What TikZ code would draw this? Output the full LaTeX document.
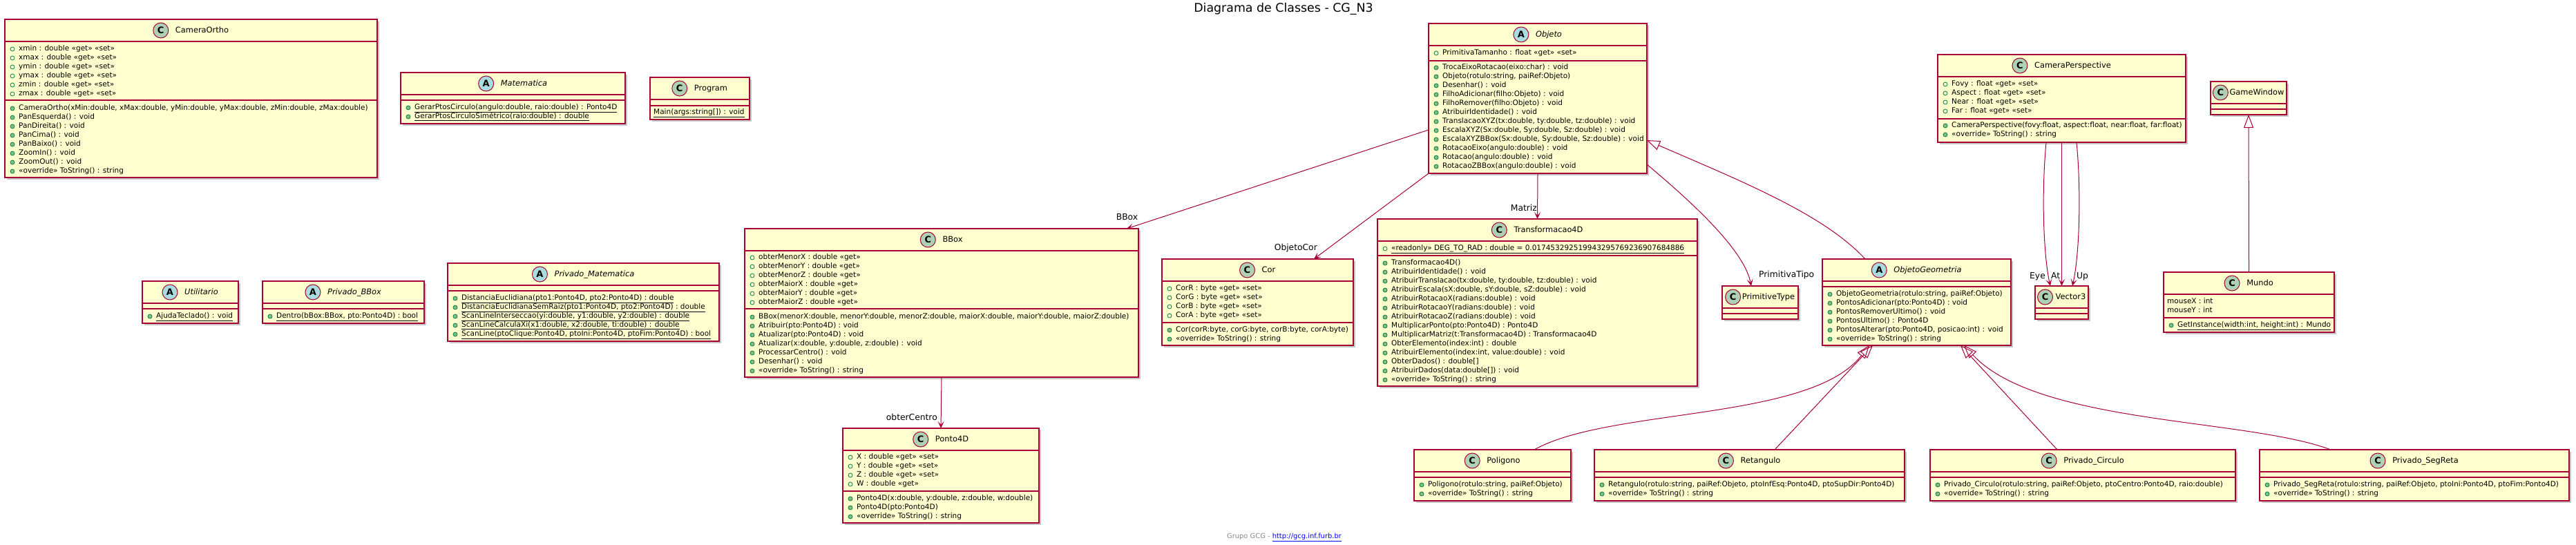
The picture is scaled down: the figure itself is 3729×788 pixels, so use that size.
\documentclass[tikz,border=0pt]{standalone}
\usepackage{fontspec}
\setmainfont{DejaVu Sans}[ItalicFont={DejaVu Sans Oblique}, BoldFont={DejaVu Sans Bold}, BoldItalicFont={DejaVu Sans Bold Oblique}]
\usetikzlibrary{arrows.meta,shadows}

\definecolor{umlrot}{HTML}{A80036}
\definecolor{umlgelb}{HTML}{FEFECE}
\definecolor{umlgruen}{HTML}{ADD1B2}
\definecolor{umlblau}{HTML}{A9DCDF}
\definecolor{markgruen}{HTML}{038048}
\definecolor{markfuell}{HTML}{84BE84}
\definecolor{fussgrau}{HTML}{888888}

\tikzset{
  kasten/.style={draw=umlrot, fill=umlgelb, line width=1.3pt, inner sep=0pt, outer sep=0pt,
    drop shadow={shadow xshift=3pt, shadow yshift=-3pt, fill=black, opacity=0.22}},
  trenn/.style={draw=umlrot, line width=1.3pt},
  titel C/.style={font=\fontsize{11.4}{13}\selectfont},
  titel A/.style={font=\fontsize{11.4}{13}\selectfont\itshape},
  icon/.style={circle, draw=umlrot, line width=1pt, minimum size=22pt, inner sep=0pt,
    font=\fontsize{13}{13}\selectfont\bfseries},
  icon C/.style={fill=umlgruen},
  icon A/.style={fill=umlblau},
  glied/.style={anchor=west, inner sep=0pt, text height=8pt, text depth=2.5pt,
    font=\fontsize{10.5}{13}\selectfont},
  attrmark/.style={draw=markgruen, line width=0.8pt},
  methmark/.style={draw=markgruen, fill=markfuell, line width=0.8pt},
  kantentext/.style={inner sep=0pt, text height=9pt, text depth=2.5pt,
    font=\fontsize{12.3}{14}\selectfont},
}

% Klassenkasten: [Abstand Icon-Titel] Name, links, oben, rechts, unten, Trennlinie, C/A, Titel
\newcommand\kasten[9][32pt]{%
  \node[kasten, anchor=north west, minimum width={#5-#3}, minimum height={#6-#4}] (#2) at (#3,#4) {};
  \draw[trenn] (#3,#4+32) -- (#5,#4+32);
  \draw[trenn] (#3,#7) -- (#5,#7);
  \node[titel #8, inner sep=0pt, text height=8.5pt, text depth=2.5pt] (#2-titel) at ([yshift=-16pt]#2.north) {\hspace*{#1}#9};
  \node[icon, icon #8] (#2-icon) at ([xshift=11pt]#2-titel.west) {#8};
}
% Attribute (offener Kreis), Methoden (gefuellter Kreis), ohne Marke
\newcommand\attribute[4]{%
  \foreach \zeile [count=\i from 0] in {#4}{
    \draw[attrmark] (#2+11,#3+13*\i) circle (3pt);
    \node[glied] (#1-a\i) at (#2+20,#3+13*\i) {\zeile};
  }}
\newcommand\methoden[4]{%
  \foreach \zeile [count=\i from 0] in {#4}{
    \draw[methmark] (#2+11,#3+13*\i) circle (3pt);
    \node[glied] (#1-m\i) at (#2+20,#3+13*\i) {\zeile};
  }}
\newcommand\ohnemarke[4]{%
  \foreach \zeile [count=\i from 0] in {#4}{
    \node[glied] (#1-o\i) at (#2+5,#3+13*\i) {\zeile};
  }}

\begin{document}
\begin{tikzpicture}
  [
  x=1pt, y=-1pt,
  assoz/.style={draw=umlrot, line width=1pt, -{Stealth[length=10pt, width=9pt, inset=5pt]}},
  erbt/.style={draw=umlrot, line width=1pt, -{Triangle[open, length=19pt, width=14pt]}}
  %Pfeile der Beziehungen
  ]

  %Hintergrund und Rahmen
  \path[use as bounding box, fill=white] (0,0) rectangle (3729,788);

  %Titel
  \node[font=\fontsize{17.4}{20}\selectfont, anchor=base, inner sep=0pt] (titel) at (1858,17) {Diagrama de Classes - CG\_N3};

  %CameraOrtho
  \kasten{cameraortho}{7}{28}{546}{257}{145}{C}{CameraOrtho}
  \attribute{cameraortho}{7}{71}{{xmin : double «get» «set»}, {xmax : double «get» «set»}, {ymin : double «get» «set»}, {ymax : double «get» «set»}, {zmin : double «get» «set»}, {zmax : double «get» «set»}}
  \methoden{cameraortho}{7}{157}{{CameraOrtho(xMin:double, xMax:double, yMin:double, yMax:double, zMin:double, zMax:double)}, {PanEsquerda() : void}, {PanDireita() : void}, {PanCima() : void}, {PanBaixo() : void}, {ZoomIn() : void}, {ZoomOut() : void}, {«override» ToString() : string}}

  %Matematica
  \kasten{matematica}{580}{105}{905}{179}{145}{A}{Matematica}
  \methoden{matematica}{580}{156}{{\underline{GerarPtosCirculo(angulo:double, raio:double) : Ponto4D}}, {\underline{GerarPtosCirculoSimétrico(raio:double) : double}}}

  %Program
  \kasten{program}{941}{112}{1085}{173}{153}{C}{Program}
  \ohnemarke{program}{941}{163}{{\underline{Main(args:string[]) : void}}}

  %Utilitario, Privado_BBox, Privado_Matematica
  \kasten{utilitario}{206}{407}{345}{468}{447}{A}{Utilitario}
  \methoden{utilitario}{206}{458}{{\underline{AjudaTeclado() : void}}}
  \kasten{privadobbox}{380}{407}{614}{468}{447}{A}{Privado\_BBox}
  \methoden{privadobbox}{380}{458}{{\underline{Dentro(bBox:BBox, pto:Ponto4D) : bool}}}
  \kasten{privadomatematica}{648}{381}{1041}{494}{421}{A}{Privado\_Matematica}
  \methoden{privadomatematica}{648}{432}{{\underline{DistanciaEuclidiana(pto1:Ponto4D, pto2:Ponto4D) : double}}, {\underline{DistanciaEuclidianaSemRaiz(pto1:Ponto4D, pto2:Ponto4D) : double}}, {\underline{ScanLineInterseccao(yi:double, y1:double, y2:double) : double}}, {\underline{ScanLineCalculaXi(x1:double, x2:double, ti:double) : double}}, {\underline{ScanLine(ptoClique:Ponto4D, ptoIni:Ponto4D, ptoFim:Ponto4D) : bool}}}

  %BBox
  \kasten{bbox}{1078}{331}{1648}{546}{447}{C}{BBox}
  \attribute{bbox}{1078}{373}{{obterMenorX : double «get»}, {obterMenorY : double «get»}, {obterMenorZ : double «get»}, {obterMaiorX : double «get»}, {obterMaiorY : double «get»}, {obterMaiorZ : double «get»}}
  \methoden{bbox}{1078}{459}{{BBox(menorX:double, menorY:double, menorZ:double, maiorX:double, maiorY:double, maiorZ:double)}, {Atribuir(pto:Ponto4D) : void}, {Atualizar(pto:Ponto4D) : void}, {Atualizar(x:double, y:double, z:double) : void}, {ProcessarCentro() : void}, {Desenhar() : void}, {«override» ToString() : string}}

  %Ponto4D
  \kasten{ponto4d}{1220}{620}{1504}{757}{711}{C}{Ponto4D}
  \attribute{ponto4d}{1220}{662}{{X : double «get» «set»}, {Y : double «get» «set»}, {Z : double «get» «set»}, {W : double «get»}}
  \methoden{ponto4d}{1220}{722}{{Ponto4D(x:double, y:double, z:double, w:double)}, {Ponto4D(pto:Ponto4D)}, {«override» ToString() : string}}

  %Cor
  \kasten{cor}{1682}{375}{1959}{500}{467}{C}{Cor}
  \attribute{cor}{1682}{418}{{CorR : byte «get» «set»}, {CorG : byte «get» «set»}, {CorB : byte «get» «set»}, {CorA : byte «get» «set»}}
  \methoden{cor}{1682}{478}{{Cor(corR:byte, corG:byte, corB:byte, corA:byte)}, {«override» ToString() : string}}

  %Objeto
  \kasten{objeto}{2068}{34}{2384}{251}{88}{A}{Objeto}
  \attribute{objeto}{2068}{77}{{PrimitivaTamanho : float «get» «set»}}
  \methoden{objeto}{2068}{98}{{TrocaEixoRotacao(eixo:char) : void}, {Objeto(rotulo:string, paiRef:Objeto)}, {Desenhar() : void}, {FilhoAdicionar(filho:Objeto) : void}, {FilhoRemover(filho:Objeto) : void}, {AtribuirIdentidade() : void}, {TranslacaoXYZ(tx:double, ty:double, tz:double) : void}, {EscalaXYZ(Sx:double, Sy:double, Sz:double) : void}, {EscalaXYZBBox(Sx:double, Sy:double, Sz:double) : void}, {RotacaoEixo(angulo:double) : void}, {Rotacao(angulo:double) : void}, {RotacaoZBBox(angulo:double) : void}}

  %Transformacao4D
  \kasten{transformacao}{1994}{317}{2457}{559}{370}{C}{Transformacao4D}
  \attribute{transformacao}{1994}{360}{{\underline{«readonly» DEG\_TO\_RAD : double = 0.017453292519943295769236907684886}}}
  \methoden{transformacao}{1994}{381}{{Transformacao4D()}, {AtribuirIdentidade() : void}, {AtribuirTranslacao(tx:double, ty:double, tz:double) : void}, {AtribuirEscala(sX:double, sY:double, sZ:double) : void}, {AtribuirRotacaoX(radians:double) : void}, {AtribuirRotacaoY(radians:double) : void}, {AtribuirRotacaoZ(radians:double) : void}, {MultiplicarPonto(pto:Ponto4D) : Ponto4D}, {MultiplicarMatriz(t:Transformacao4D) : Transformacao4D}, {ObterElemento(index:int) : double}, {AtribuirElemento(index:int, value:double) : void}, {ObterDados() : double[]}, {AtribuirDados(data:double[]) : void}, {«override» ToString() : string}}

  %PrimitiveType, Vector3, GameWindow
  \kasten[24pt]{primitivetype}{2493}{414}{2603}{462}{454}{C}{PrimitiveType}
  \kasten[26pt]{vector3}{2946}{414}{3023}{462}{454}{C}{Vector3}
  \kasten[24pt]{gamewindow}{3200}{118}{3310}{166}{158}{C}{GameWindow}

  %ObjetoGeometria
  \kasten{objetogeometria}{2638}{375}{2911}{500}{415}{A}{ObjetoGeometria}
  \methoden{objetogeometria}{2638}{426}{{ObjetoGeometria(rotulo:string, paiRef:Objeto)}, {PontosAdicionar(pto:Ponto4D) : void}, {PontosRemoverUltimo() : void}, {PontosUltimo() : Ponto4D}, {PontosAlterar(pto:Ponto4D, posicao:int) : void}, {«override» ToString() : string}}

  %CameraPerspective
  \kasten{cameraperspective}{2805}{79}{3164}{206}{172}{C}{CameraPerspective}
  \attribute{cameraperspective}{2805}{122}{{Fovy : float «get» «set»}, {Aspect : float «get» «set»}, {Near : float «get» «set»}, {Far : float «get» «set»}}
  \methoden{cameraperspective}{2805}{182}{{CameraPerspective(fovy:float, aspect:float, near:float, far:float)}, {«override» ToString() : string}}

  %Mundo
  \kasten{mundo}{3132}{394}{3379}{481}{460}{C}{Mundo}
  \ohnemarke{mundo}{3132}{437}{{mouseX : int}, {mouseY : int}}
  \methoden{mundo}{3132}{471}{{\underline{GetInstance(width:int, height:int) : Mundo}}}

  %Unterklassen von ObjetoGeometria
  \kasten{poligono}{2047}{651}{2274}{725}{691}{C}{Poligono}
  \methoden{poligono}{2047}{702}{{Poligono(rotulo:string, paiRef:Objeto)}, {«override» ToString() : string}}
  \kasten{retangulo}{2308}{651}{2757}{725}{691}{C}{Retangulo}
  \methoden{retangulo}{2308}{702}{{Retangulo(rotulo:string, paiRef:Objeto, ptoInfEsq:Ponto4D, ptoSupDir:Ponto4D)}, {«override» ToString() : string}}
  \kasten{privadocirculo}{2794}{651}{3236}{725}{691}{C}{Privado\_Circulo}
  \methoden{privadocirculo}{2794}{702}{{Privado\_Circulo(rotulo:string, paiRef:Objeto, ptoCentro:Ponto4D, raio:double)}, {«override» ToString() : string}}
  \kasten{privadosegreta}{3271}{651}{3719}{725}{691}{C}{Privado\_SegReta}
  \methoden{privadosegreta}{3271}{702}{{Privado\_SegReta(rotulo:string, paiRef:Objeto, ptoIni:Ponto4D, ptoFim:Ponto4D)}, {«override» ToString() : string}}

  %Assoziationen
  \draw[assoz] ([yshift=-45.5pt]objeto.west) -- ([xshift=268pt]bbox.north);
  \draw[assoz] (objeto.south west) -- ([xshift=81.5pt]cor.north);
  \draw[assoz] (objeto.south) -- (transformacao.north);
  \draw[assoz] ([yshift=13pt]objeto.south east) .. controls (2440,285) and (2525,360) .. ([xshift=-13pt]primitivetype.north);
  \draw[assoz] (bbox.south) -- (ponto4d.north);
  \draw[assoz] ([xshift=-22.5pt]cameraperspective.south) .. controls (2955,280) and (2958,370) .. ([xshift=-16.5pt]vector3.north);
  \draw[assoz] (cameraperspective.south) -- (vector3.north);
  \draw[assoz] ([xshift=21.5pt]cameraperspective.south) .. controls (3013,280) and (3010,370) .. ([xshift=15.5pt]vector3.north);

  %Beschriftung der Assoziationen
  \node[kantentext] (l-bbox) at (1631.5,315) {BBox};
  \node[kantentext, anchor=east] (l-cor) at (1907,359) {ObjetoCor};
  \node[kantentext, anchor=east] (l-matriz) at (2225,302) {Matriz};
  \node[kantentext, anchor=east] (l-centro) at (1357,605) {obterCentro};
  \node[kantentext, anchor=west] (l-tipo) at (2546,398) {PrimitivaTipo};
  \node[kantentext, anchor=east] (l-eye) at (2961,400) {Eye};
  \node[kantentext, anchor=west] (l-at) at (2969,400) {At};
  \node[kantentext, anchor=west] (l-up) at (3006,400) {Up};

  %Vererbung
  \draw[erbt] ([xshift=-74.5pt]objetogeometria.north) .. controls (2640,310) and (2520,262) .. ([yshift=-60.5pt]objeto.east);
  \draw[erbt] (mundo.north) -- (gamewindow.south);
  \draw[erbt] ([xshift=60.5pt]poligono.north) .. controls (2330,590) and (2620,610) .. ([xshift=-68.5pt]objetogeometria.south);
  \draw[erbt] ([xshift=36.5pt]retangulo.north) -- ([xshift=-63.5pt]objetogeometria.south);
  \draw[erbt] ([xshift=-37pt]privadocirculo.north) -- ([xshift=63.5pt]objetogeometria.south);
  \draw[erbt] ([xshift=-121pt]privadosegreta.north) .. controls (3250,605) and (2950,615) .. ([xshift=68.5pt]objetogeometria.south);

  %Fusszeile
  \node[font=\fontsize{9.9}{12}\selectfont, inner sep=0pt, text height=7.5pt, text depth=2pt] (fuss) at (1859,777) {\textcolor{fussgrau}{Grupo GCG - }\textcolor{blue}{\underline{http://gcg.inf.furb.br}}};

\end{tikzpicture}
\end{document}
